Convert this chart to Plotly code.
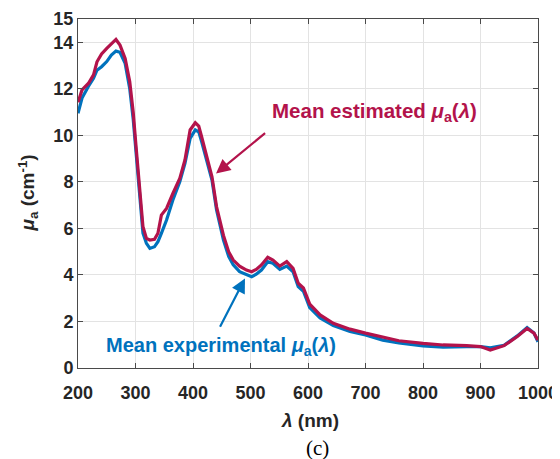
import plotly.graph_objects as go

wavelength = [200, 207, 218, 227, 233, 241, 250, 258, 266, 273, 282, 290, 296, 301, 305, 309, 313, 319, 325, 333, 339, 345, 354, 365, 377, 386, 395, 404, 410, 415, 424, 433, 441, 453, 462, 470, 481, 493, 502, 510, 519, 530, 539, 551, 563, 574, 583, 592, 603, 621, 644, 673, 700, 730, 758, 800, 835, 876, 900, 917, 941, 964, 981, 993, 1000]
mu_estimated = [11.42, 11.95, 12.23, 12.6, 13.16, 13.5, 13.74, 13.95, 14.12, 13.88, 13.3, 12.3, 11.0, 9.5, 8.22, 6.93, 6.07, 5.57, 5.5, 5.53, 5.79, 6.57, 6.86, 7.5, 8.15, 8.94, 10.23, 10.54, 10.4, 9.94, 9.08, 8.22, 6.93, 5.7, 5.0, 4.64, 4.38, 4.21, 4.14, 4.24, 4.43, 4.76, 4.64, 4.38, 4.57, 4.28, 3.64, 3.44, 2.75, 2.28, 1.92, 1.67, 1.50, 1.32, 1.17, 1.06, 0.99, 0.96, 0.92, 0.77, 0.96, 1.35, 1.70, 1.50, 1.2]
mu_experimental = [10.95, 11.6, 12.1, 12.45, 12.8, 12.95, 13.17, 13.45, 13.62, 13.57, 13.09, 12.0, 10.7, 9.2, 7.9, 6.6, 5.8, 5.36, 5.14, 5.21, 5.43, 5.79, 6.36, 7.22, 8.0, 8.8, 9.87, 10.23, 10.15, 9.73, 8.94, 8.08, 6.79, 5.5, 4.8, 4.43, 4.14, 4.0, 3.92, 4.03, 4.21, 4.57, 4.5, 4.24, 4.38, 4.14, 3.5, 3.3, 2.6, 2.15, 1.82, 1.57, 1.42, 1.2, 1.08, 0.95, 0.9, 0.92, 0.92, 0.87, 0.98, 1.38, 1.74, 1.5, 1.13]

x_ticks = [200, 300, 400, 500, 600, 700, 800, 900, 1000]
y_ticks = [0, 2, 4, 6, 8, 10, 12, 14, 15]

RED = "#B3134B"
BLUE = "#0072BD"
AX = "#262626"
FONT = "Liberation Sans"

# figure geometry (page is offset by 8px body margin)
W, H = 552, 451
ML, MT, MR, MB = 70, 11, 22, 91
PW, PH = W - ML - MR, H - MT - MB

fig = go.Figure()
fig.add_trace(go.Scatter(x=wavelength, y=mu_experimental, mode="lines",
                         line=dict(color=BLUE, width=3.2), showlegend=False))
fig.add_trace(go.Scatter(x=wavelength, y=mu_estimated, mode="lines",
                         line=dict(color=RED, width=3.2), showlegend=False))

axis_common = dict(
    showgrid=True, gridcolor="#e3e3e3", gridwidth=1,
    showline=True, linecolor="#4a4a4a", linewidth=1, mirror="allticks",
    ticks="inside", ticklen=5, tickcolor="#4a4a4a",
    tickfont=dict(family=FONT, size=18, color=AX, weight="bold"),
    zeroline=False, automargin=False,
)

fig.update_xaxes(range=[200, 1000], tickvals=x_ticks, ticklabelstandoff=8, **axis_common)
fig.update_yaxes(range=[0, 15], tickvals=y_ticks, **axis_common)

# axis titles
fig.add_annotation(x=(302 - ML) / PW, y=(PH + MT - 412) / PH, xref="paper", yref="paper",
                   xanchor="center", yanchor="middle", showarrow=False,
                   text="<i>λ</i> (nm)", font=dict(family=FONT, size=19, color=AX, weight="bold"))
fig.add_annotation(x=(20 - ML) / PW, y=0.5, xref="paper", yref="paper",
                   xanchor="center", yanchor="middle", showarrow=False, textangle=-90,
                   text="<i>μ</i><sub>a</sub> (cm<sup>-1</sup>)", font=dict(family=FONT, size=19, color=AX, weight="bold"))

fig.add_annotation(x=440, y=8.36, ax=528, ay=10.15, xref="x", yref="y", axref="x", ayref="y",
                   showarrow=True, arrowhead=2, arrowsize=1.3, arrowwidth=2.2, arrowcolor=RED, text="")
fig.add_annotation(x=490.4, y=3.85, ax=445.7, ay=1.71, xref="x", yref="y", axref="x", ayref="y",
                   showarrow=True, arrowhead=2, arrowsize=1.3, arrowwidth=2.2, arrowcolor=BLUE, text="")
fig.add_annotation(x=716.5, y=11.0, xref="x", yref="y", showarrow=False,
                   text="Mean estimated <i>μ</i><sub>a</sub>(<i>λ</i>)",
                   font=dict(family=FONT, size=20.5, color=RED, weight="bold"))
fig.add_annotation(x=448.7, y=0.93, xref="x", yref="y", showarrow=False,
                   text="Mean experimental <i>μ</i><sub>a</sub>(<i>λ</i>)",
                   font=dict(family=FONT, size=20, color=BLUE, weight="bold"))
fig.add_annotation(x=(309 - ML) / PW, y=(PH + MT - 440) / PH, xref="paper", yref="paper",
                   xanchor="center", yanchor="middle", showarrow=False,
                   text="(c)", font=dict(family="Liberation Serif", size=21, color="#000000"))

fig.update_layout(
    width=W, height=H,
    margin=dict(l=ML, r=MR, t=MT, b=MB, autoexpand=False),
    paper_bgcolor="white", plot_bgcolor="white",
)

fig.write_html("out.html")
